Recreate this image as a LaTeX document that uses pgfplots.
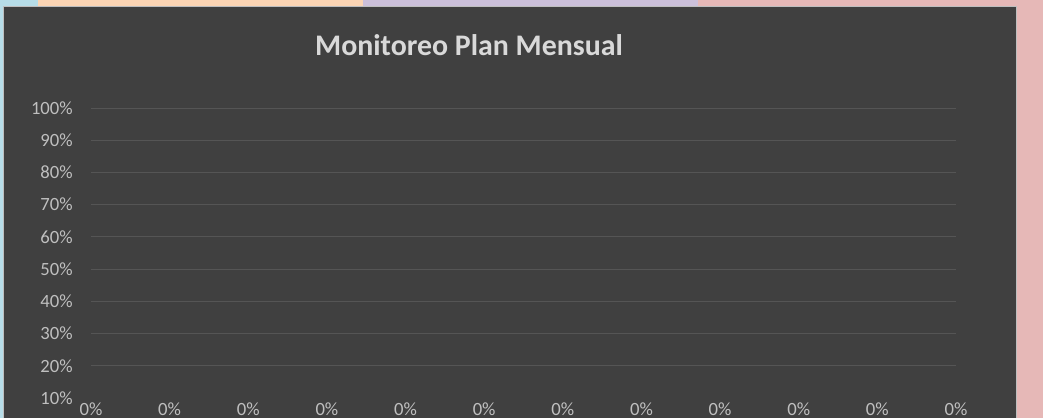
\documentclass[border=0pt]{standalone}
\usepackage{fontspec}
\setmainfont{Carlito}
\usepackage{pgfplots}
\pgfplotsset{compat=1.18}
\definecolor{bgdark}{HTML}{404040}
\definecolor{lblue}{HTML}{B7DDE8}
\definecolor{peach}{HTML}{FCD5B4}
\definecolor{lavender}{HTML}{CCC0DA}
\definecolor{pinkbg}{HTML}{E6B8B7}
\definecolor{bordergray}{HTML}{BFBFBF}
\definecolor{gridgray}{HTML}{555555}
\definecolor{labgray}{HTML}{BFBFBF}
\definecolor{titlegray}{HTML}{D9D9D9}
\begin{document}
\begin{tikzpicture}
\begin{scope}[x=0.75pt,y=0.75pt]
\fill[lblue] (0,0) rectangle (38,418);
\fill[peach] (38,0) rectangle (363,418);
\fill[lavender] (363,0) rectangle (698,418);
\fill[pinkbg] (698,0) rectangle (1043,418);
\fill[bgdark] (3,0) rectangle (1016.5,411.3);
\draw[bordergray,line width=0.75pt] (3,0) -- (3,411.3) -- (1016.5,411.3) -- (1016.5,0);
\node[anchor=base,text=titlegray,font=\fontsize{22.4}{26}\selectfont\bfseries,inner sep=0pt] at (469,362) {Monitoreo Plan Mensual};
\end{scope}
\begin{axis}[
  at={(68.25pt,15pt)}, anchor=south west,
  scale only axis, width=648.75pt, height=217.5pt,
  xmin=0, xmax=11, ymin=10, ymax=100,
  ytick={20,30,...,100},
  extra y ticks={10},
  extra y tick style={ymajorgrids=false},
  xtick=\empty,
  ymajorgrids, major grid style={gridgray, line width=0.75pt},
  axis line style={draw=none},
  major tick length=0pt,
  /pgf/number format/assume math mode=true,
  yticklabel={\pgfmathprintnumber{\tick}\%},
  yticklabel style={anchor=east, inner sep=0pt, xshift=-13.5pt, text=labgray, font=\fontsize{14}{16}\selectfont},
  clip=false,
]
\addplot[draw=none, nodes near coords={\pgfmathprintnumber{\pgfplotspointmeta}\%}, point meta=y,
  every node near coord/.append style={anchor=center, inner sep=0pt, yshift=15.8pt, text=labgray, font=\fontsize{14}{16}\selectfont}]
  coordinates {(0,0) (1,0) (2,0) (3,0) (4,0) (5,0) (6,0) (7,0) (8,0) (9,0) (10,0) (11,0)};
\end{axis}
\pgfresetboundingbox
\path[use as bounding box] (0,0) rectangle (782.25pt,313.5pt);
\end{tikzpicture}
\end{document}
